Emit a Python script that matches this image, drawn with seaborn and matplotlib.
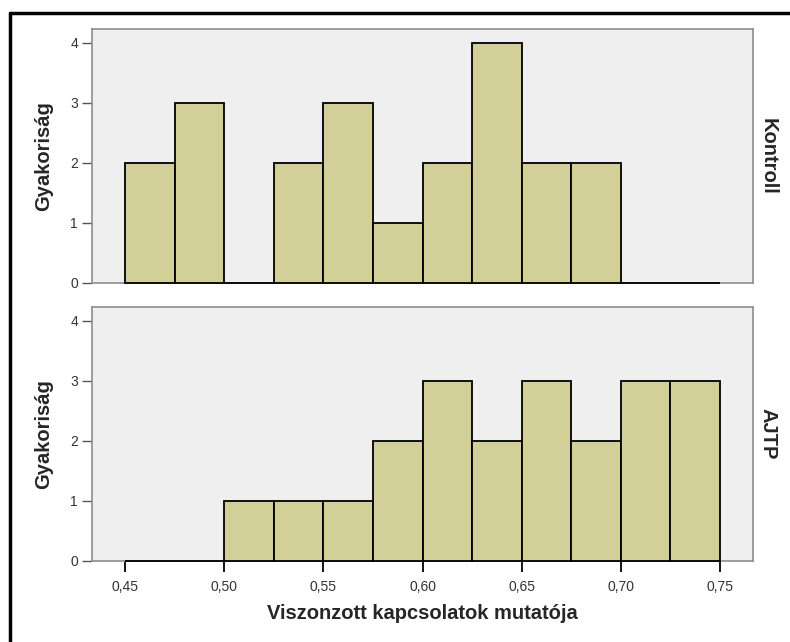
import matplotlib
matplotlib.use("Agg")
import matplotlib.pyplot as plt
from matplotlib.lines import Line2D
from matplotlib.ticker import FixedLocator, FuncFormatter
import seaborn as sns
import pandas as pd

# Histogram bins (left edges, width 0.025)
bin_left = [0.450, 0.475, 0.500, 0.525, 0.550, 0.575,
            0.600, 0.625, 0.650, 0.675, 0.700, 0.725]
bin_width = 0.025
# Frequencies per group
kontroll_counts = [2, 3, 0, 2, 3, 1, 2, 4, 2, 2, 0, 0]
ajtp_counts = [0, 0, 1, 1, 1, 2, 3, 2, 3, 2, 3, 3]
groups = ["Kontroll", "AJTP"]
x_ticks = [0.45, 0.50, 0.55, 0.60, 0.65, 0.70, 0.75]
y_ticks = [0, 1, 2, 3, 4]

sns.set_theme(style="white")
plt.rcParams["font.family"] = ["Liberation Sans", "DejaVu Sans"]

bar_color = "#D3CF98"
panel_bg = "#EFEFEF"
spine_color = "#8E8E8E"

edges = bin_left + [bin_left[-1] + bin_width]
frames = []
for name, counts in zip(groups, [kontroll_counts, ajtp_counts]):
    frames.append(pd.DataFrame({
        "value": [b + bin_width / 2 for b in bin_left],
        "count": counts,
        "group": name,
    }))
df = pd.concat(frames, ignore_index=True)

fig = plt.figure(figsize=(7.9, 6.42), dpi=100)
W, H = 790, 642


def px_axes(left, top, right, bottom):
    return fig.add_axes([left / W, 1 - bottom / H, (right - left) / W, (bottom - top) / H])


ax_top = px_axes(92, 29, 753, 283)
ax_bot = px_axes(92, 307, 753, 561)

for ax, name in zip([ax_top, ax_bot], groups):
    sub = df[df["group"] == name]
    sns.histplot(data=sub, x="value", weights="count", bins=edges, ax=ax,
                 color=bar_color, alpha=1, edgecolor="black", linewidth=1.3,
                 stat="count")
    for p in ax.patches:
        p.set_clip_on(False)
        p.set_zorder(3)
    ax.set_facecolor(panel_bg)
    ax.set_xlim(0.4334, 0.7666)
    ax.set_ylim(0, 4.23)
    for s in ax.spines.values():
        s.set_color(spine_color)
        s.set_linewidth(1.2)
    ax.yaxis.set_major_locator(FixedLocator(y_ticks))
    ax.tick_params(axis="y", left=True, length=7, width=1.0, color="#555555",
                   labelsize=10, labelcolor="#333333", pad=3)
    ax.set_ylabel("Gyakoriság", fontsize=14.5, fontweight="bold")
    ax.yaxis.set_label_coords(-0.059, 0.5)
    ax.text(1.009, 0.5, name, transform=ax.transAxes, rotation=-90,
            ha="left", va="center", fontsize=14.5, fontweight="bold")

ax_top.set_xlabel("")
ax_top.tick_params(axis="x", bottom=False, labelbottom=False)

ax_bot.xaxis.set_major_locator(FixedLocator(x_ticks))
ax_bot.xaxis.set_major_formatter(FuncFormatter(lambda v, _: f"{v:.2f}".replace(".", ",")))
ax_bot.tick_params(axis="x", bottom=True, length=8, width=1.3, color="black",
                   labelsize=10, labelcolor="#333333", pad=6)
ax_bot.set_xlabel("Viszonzott kapcsolatok mutatója", fontsize=14.5,
                  fontweight="bold", labelpad=7)

# Frame lines along the left and top edges of the figure
fig.add_artist(Line2D([10 / W, 10 / W], [0, 1 - 13 / H], color="black", linewidth=2.5))
fig.add_artist(Line2D([10 / W, 1], [1 - 13 / H, 1 - 13 / H], color="black", linewidth=2.5))

fig.savefig("out.png", dpi=100, facecolor="white")
